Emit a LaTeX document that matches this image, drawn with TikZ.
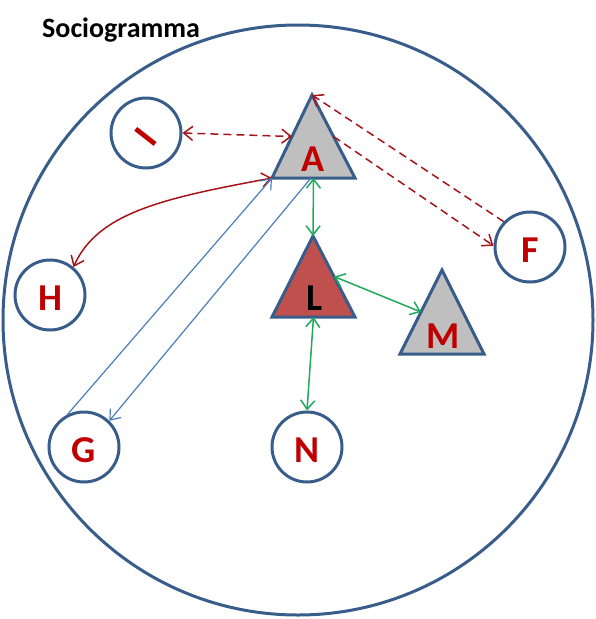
\documentclass[tikz,border=0pt]{standalone}
\usepackage{fontspec}
\setmainfont{Carlito}
\usepackage{xcolor}
\usepackage{tikz}
\usetikzlibrary{arrows.meta,calc}

\definecolor{rimblue}{RGB}{56,93,138}
\definecolor{namered}{RGB}{192,0,0}
\definecolor{trigray}{RGB}{191,191,191}
\definecolor{leadred}{RGB}{192,80,77}
\definecolor{dashred}{RGB}{165,20,25}
\definecolor{linkblue}{RGB}{74,126,187}
\definecolor{linkgreen}{RGB}{30,170,90}

\tikzset{
  member/.style={circle, draw=rimblue, line width=3pt, minimum size=70pt, inner sep=0pt,
    text=namered, font=\bfseries\fontsize{38}{38}\selectfont, text height=30pt, text depth=0pt},
  tag/.style={inner sep=0pt, text=namered, font=\bfseries\fontsize{38}{38}\selectfont},
  tri/.style={draw=rimblue, line width=3pt, line join=miter},
  bond/.style={line width=1.5pt, >={Straight Barb[length=9pt,width=14pt]}},
  dashbond/.style={bond, draw=dashred, dash pattern=on 8pt off 5pt}
}

\begin{document}
\begin{tikzpicture}[x=1pt,y=-1pt]
    \useasboundingbox (0,0) rectangle (596,619);

    % Title and group
    \node[anchor=base west, inner sep=0pt, font=\bfseries\fontsize{28}{28}\selectfont] (title) at (42,37) {Sociogramma};
    \draw[rimblue, line width=3pt] (298,320) circle[radius=295pt];

    % Triangles
    \coordinate (Atop) at (312,95);
    \coordinate (Aleft) at (272,178);
    \coordinate (Aright) at (355,178);
    \draw[tri, fill=trigray] (Atop) -- (Aright) -- (Aleft) -- cycle;
    \node[tag] (A) at (313,159) {A};

    \coordinate (Ltop) at (313,236);
    \coordinate (Lleft) at (272,317);
    \coordinate (Lright) at (355,317);
    \draw[tri, fill=leadred] (Ltop) -- (Lright) -- (Lleft) -- cycle;
    \node[tag, text=black] (L) at (315,298) {L};

    \coordinate (Mtop) at (442,270);
    \coordinate (Mleft) at (400,354);
    \coordinate (Mright) at (484,354);
    \draw[tri, fill=trigray] (Mtop) -- (Mright) -- (Mleft) -- cycle;
    \node[tag] (M) at (443,336) {M};

    % Circles
    \node[member] (I) at (146,133) {\rotatebox{52}{I}};
    \node[member] (H) at (50,295) {H};
    \node[member] (F) at (530,247) {F};
    \node[member] (G) at (84,447) {G};
    \node[member] (N) at (307,447) {N};

    % Side and base points
    \coordinate (Aw) at ($(Atop)!0.5!(Aleft)$);
    \coordinate (Ae) at ($(Atop)!0.5!(Aright)$);
    \coordinate (Ab) at ($(Aleft)!0.5!(Aright)$);
    \coordinate (Ag) at ($(Aleft)!0.47!(Aright)$);
    \coordinate (Le) at ($(Ltop)!0.5!(Lright)$);
    \coordinate (Lb) at ($(Lleft)!0.5!(Lright)$);
    \coordinate (Mw) at ($(Mtop)!0.5!(Mleft)$);

    % Red links
    \draw[dashbond, <->] (I.east) -- (Aw);
    \draw[dashbond, ->] (F.136) -- (Atop);
    \draw[dashbond, ->] (Ae) -- (F.178);
    \draw[bond, draw=dashred, <->] (H.50) .. controls (98,212) and (165,198) .. (Aleft);

    % Blue links
    \draw[bond, line width=1.2pt, draw=linkblue, ->] (G.117) -- (Aleft);
    \draw[bond, line width=1.2pt, draw=linkblue, ->] (Ag) -- (G.46);

    % Green links
    \draw[bond, draw=linkgreen, <->] (Ab) -- (Ltop);
    \draw[bond, draw=linkgreen, <->] (Le) -- (Mw);
    \draw[bond, draw=linkgreen, <->] (Lb) -- (N.north);
\end{tikzpicture}
\end{document}
